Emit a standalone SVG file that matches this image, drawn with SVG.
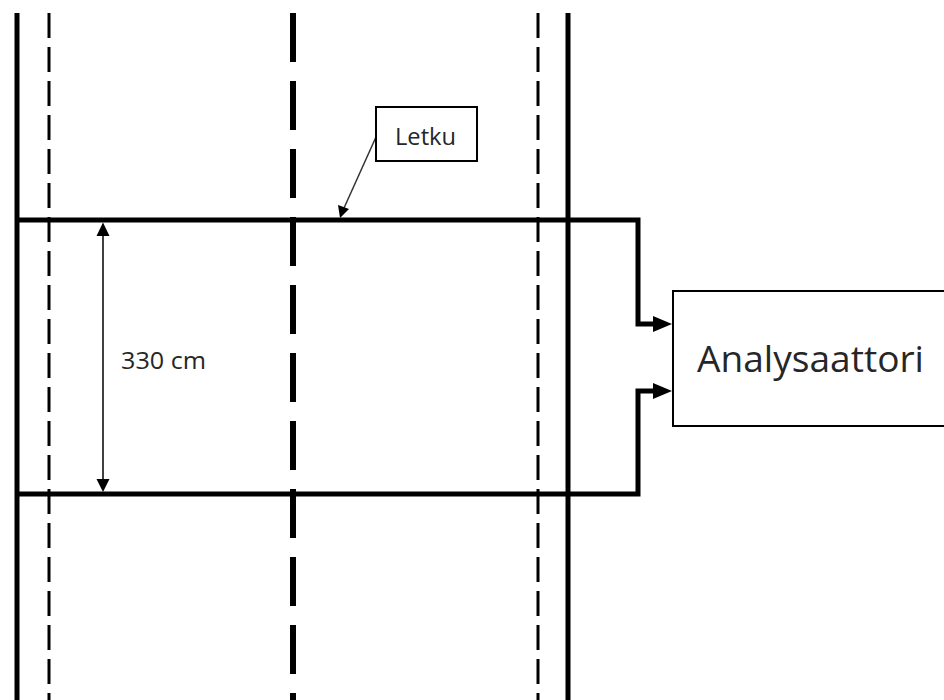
<svg xmlns="http://www.w3.org/2000/svg" width="944" height="700" viewBox="0 0 944 700">
<style>
.wall{stroke:#000;stroke-width:5;fill:none}
.lane{stroke:#000;stroke-width:3;stroke-dasharray:25 9;fill:none}
.mid{stroke:#000;stroke-width:6;stroke-dasharray:49 19;fill:none}
.hose{stroke:#000;stroke-width:5;fill:none;stroke-linejoin:miter}
.thin{stroke:#000;stroke-width:1.5;fill:none}
.box{fill:#fff;stroke:#000;stroke-width:2}
.lbl{font-family:"Open Sans","Liberation Sans",sans-serif;fill:#262626}
</style>
<defs>
<marker id="dim" viewBox="0 0 10 10" refX="10" refY="5" markerWidth="10" markerHeight="10" markerUnits="userSpaceOnUse" orient="auto-start-reverse">
<path d="M0,0 L10,5 L0,10 Z" fill="#000"/>
</marker>
</defs>
<g id="road">
<line class="wall" x1="17" y1="13" x2="17" y2="700"/>
<line class="wall" x1="568" y1="13" x2="568" y2="700"/>
<line class="lane" x1="49" y1="13" x2="49" y2="700"/>
<line class="lane" x1="538" y1="13" x2="538" y2="700"/>
<line class="mid" x1="293" y1="13" x2="293" y2="700"/>
</g>
<g id="connectors">
<path class="hose" d="M15,220 H638 V324 H654"/>
<path class="hose" d="M15,494 H638 V391 H654"/>
<path d="M653,316 L672,324 L653,332 Z" fill="#000"/>
<path d="M653,383 L672,391 L653,399 Z" fill="#000"/>
<line class="thin" x1="103" y1="236" x2="103" y2="479"/>
<path d="M96.5,236 L103,222.5 L109.5,236 Z" fill="#000"/>
<path d="M96.5,479 L103,492 L109.5,479 Z" fill="#000"/>
<line x1="376" y1="137" x2="344" y2="208" stroke="#333" stroke-width="1.5"/>
<path d="M338,205 L340,218 L349,209 Z" fill="#000"/>
</g>
<g id="letku">
<rect class="box" x="376" y="107" width="101" height="54"/>
<text class="lbl" x="395" y="145" font-size="23" textLength="61" lengthAdjust="spacingAndGlyphs">Letku</text>
</g>
<g id="dimension">
<text class="lbl" x="121" y="369" font-size="24" textLength="85" lengthAdjust="spacingAndGlyphs">330 cm</text>
</g>
<g id="analysaattori">
<rect class="box" x="673" y="291" width="280" height="135"/>
<text class="lbl" x="697" y="372" font-size="36" textLength="227" lengthAdjust="spacingAndGlyphs">Analysaattori</text>
</g>
</svg>
